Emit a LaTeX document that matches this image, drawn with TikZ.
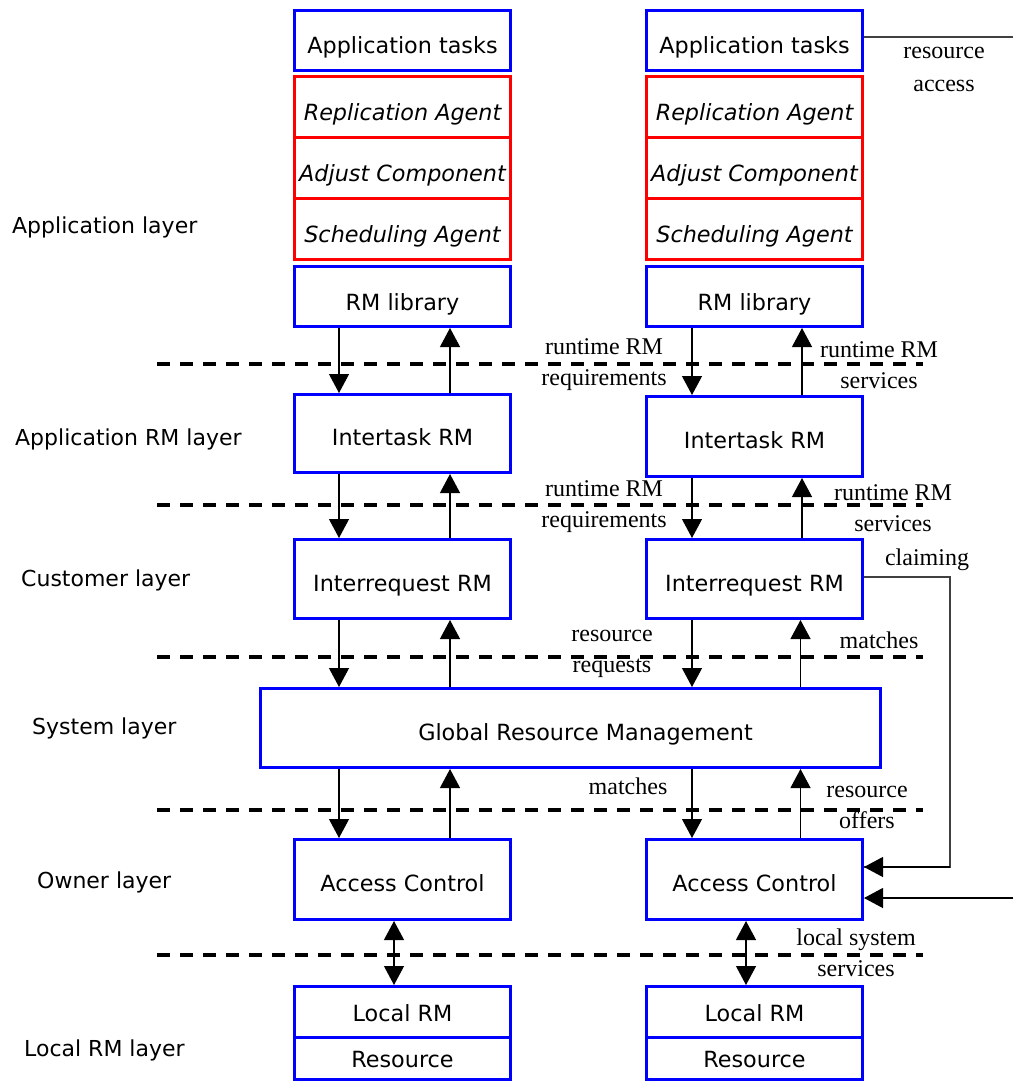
\documentclass[tikz,border=0pt]{standalone}
\usepackage{fontspec}
\setmainfont{Liberation Serif}
\newfontfamily\boxfont{DejaVu Sans}
\usetikzlibrary{arrows.meta}
\begin{document}
\begin{tikzpicture}[x=1pt,y=-1pt,
  bluebox/.style={draw=blue, line width=3pt, minimum width=216pt, inner sep=0pt,
    text height=24.5pt, text depth=0pt,
    font=\boxfont\fontsize{22.3}{26}\selectfont},
  topbox/.style={bluebox, text height=27pt},
  redbox/.style={draw=red, line width=3pt, minimum width=216pt, minimum height=61pt, inner sep=0pt,
    text height=26.5pt, text depth=0pt,
    font=\boxfont\itshape\fontsize{22.3}{26}\selectfont},
  lowbox/.style={bluebox, text height=19pt},
  layerlbl/.style={anchor=west, inner sep=0pt, font=\boxfont\fontsize{22}{26}\selectfont},
  serlbl/.style={inner sep=0pt, align=center, font=\fontsize{24}{31}\selectfont},
  sep/.style={line width=3.5pt, dash pattern=on 13pt off 10pt},
  arr/.style={line width=1.2pt, -{Triangle[length=19pt,width=20pt]}},
  darr/.style={line width=1.2pt, {Triangle[length=19pt,width=20pt]}-{Triangle[length=19pt,width=20pt]}},
  plain/.style={line width=1.4pt, draw=black!75}
]
\useasboundingbox (0,0) rectangle (1013,1083);

% separator lines
\foreach \yy/\nm in {364/s1,505/s2,657/s3,810/s4,955/s5}{
  \coordinate (\nm a) at (157,\yy);
  \coordinate (\nm b) at (923,\yy);
  \draw[sep] (\nm a) -- (\nm b);
}

% layer labels
\node[layerlbl] (lApp) at (12,227) {Application layer};
\node[layerlbl] (lARM) at (15,439) {Application RM layer};
\node[layerlbl] (lCus) at (21,580) {Customer layer};
\node[layerlbl] (lSys) at (32,728) {System layer};
\node[layerlbl] (lOwn) at (37,882) {Owner layer};
\node[layerlbl] (lLoc) at (24,1050) {Local RM layer};

% left column
\node[topbox, minimum height=60pt] (atL) at (402.5,40.5) {Application tasks};
\node[redbox] (raL) at (402.5,107) {Replication Agent};
\node[redbox] (acmL) at (402.5,168) {Adjust Component};
\node[redbox] (saL) at (402.5,229) {Scheduling Agent};
\node[topbox, minimum height=60pt] (rmL) at (402.5,296.5) {RM library};
\node[bluebox, minimum height=78pt] (itL) at (402.5,433.5) {Intertask RM};
\node[bluebox, minimum height=79pt] (irL) at (402.5,579) {Interrequest RM};
\node[bluebox, minimum height=80pt] (acL) at (402.5,879.5) {Access Control};
\node[lowbox, minimum height=50.5pt] (lrL) at (402.5,1011.75) {Local RM};
\node[lowbox, minimum height=42.5pt] (rsL) at (402.5,1058.25) {Resource};

% right column
\node[topbox, minimum height=60pt] (atR) at (754.5,40.5) {Application tasks};
\node[redbox] (raR) at (754.5,107) {Replication Agent};
\node[redbox] (acmR) at (754.5,168) {Adjust Component};
\node[redbox] (saR) at (754.5,229) {Scheduling Agent};
\node[topbox, minimum height=60pt] (rmR) at (754.5,296.5) {RM library};
\node[bluebox, minimum height=80pt] (itR) at (754.5,436.5) {Intertask RM};
\node[bluebox, minimum height=79pt] (irR) at (754.5,579) {Interrequest RM};
\node[bluebox, minimum height=80pt] (acR) at (754.5,879.5) {Access Control};
\node[lowbox, minimum height=50.5pt] (lrR) at (754.5,1011.75) {Local RM};
\node[lowbox, minimum height=42.5pt] (rsR) at (754.5,1058.25) {Resource};

% global
\node[bluebox, minimum width=620pt, minimum height=79pt] (grm) at (570.5,728) {\hspace*{30pt}Global Resource Management};

% arrows left column
\draw[arr] ([xshift=-63.5]rmL.south) -- ([xshift=-63.5]itL.north);
\draw[arr] ([xshift=47.5]itL.north) -- ([xshift=47.5]rmL.south);
\draw[arr] ([xshift=-63.5]itL.south) -- ([xshift=-63.5]irL.north);
\draw[arr] ([xshift=47.5]irL.north) -- ([xshift=47.5]itL.south);
\draw[arr] ([xshift=-63.5]irL.south) -- ([xshift=-63.5]irL.south |- grm.north);
\draw[arr] ([xshift=47.5]irL.south |- grm.north) -- ([xshift=47.5]irL.south);
\draw[arr] ([xshift=-63.5]acL.north |- grm.south) -- ([xshift=-63.5]acL.north);
\draw[arr] ([xshift=47.5]acL.north) -- ([xshift=47.5]acL.north |- grm.south);
\draw[darr] ([xshift=-8.5]acL.south) -- ([xshift=-8.5]lrL.north);

% arrows right column
\draw[arr] ([xshift=-62.5]rmR.south) -- ([xshift=-62.5]itR.north);
\draw[arr] ([xshift=47.5]itR.north) -- ([xshift=47.5]rmR.south);
\draw[arr] ([xshift=-62.5]itR.south) -- ([xshift=-62.5]irR.north);
\draw[arr] ([xshift=47.5]irR.north) -- ([xshift=47.5]itR.south);
\draw[arr] ([xshift=-62.5]irR.south) -- ([xshift=-62.5]irR.south |- grm.north);
\draw[arr] ([xshift=46]irR.south |- grm.north) -- ([xshift=46]irR.south);
\draw[arr] ([xshift=-62.5]acR.north |- grm.south) -- ([xshift=-62.5]acR.north);
\draw[arr] ([xshift=46]acR.north) -- ([xshift=46]acR.north |- grm.south);
\draw[darr] ([xshift=-8.5]acR.south) -- ([xshift=-8.5]lrR.north);

% side connectors
\coordinate (raEnd) at (1013,37);
\draw[plain] (atR.east |- raEnd) -- (raEnd);
\coordinate (clTop) at (950,577);
\coordinate (clBot) at (950,867);
\draw[plain] (clTop -| irR.east) -- (clTop) -- (clBot) -- (clBot -| acR.east);
\draw[arr] (clBot) -- (clBot -| acR.east);
\coordinate (extIn) at (1013,898);
\draw[arr] (extIn) -- (extIn -| acR.east);

% serif labels
\node[serlbl] (tRA) at (944,69) {resource\\[2pt]access};
\node[serlbl] (t1L) at (604,364.5) {runtime RM\\requirements};
\node[serlbl] (t1R) at (879,365.5) {runtime RM\\services};
\node[serlbl] (t2L) at (604,506.5) {runtime RM\\requirements};
\node[serlbl] (t2R) at (893,508.5) {runtime RM\\services};
\node[serlbl] (tCl) at (927,560) {claiming};
\node[serlbl] (t3L) at (612,653.5) {resource\\requests};
\node[serlbl] (t3R) at (879,640) {matches};
\node[serlbl] (t4L) at (628,786) {matches};
\node[serlbl] (t4R) at (867,807) {resource\\offers};
\node[serlbl] (t5R) at (856,953) {local system\\services};
\end{tikzpicture}
\end{document}
